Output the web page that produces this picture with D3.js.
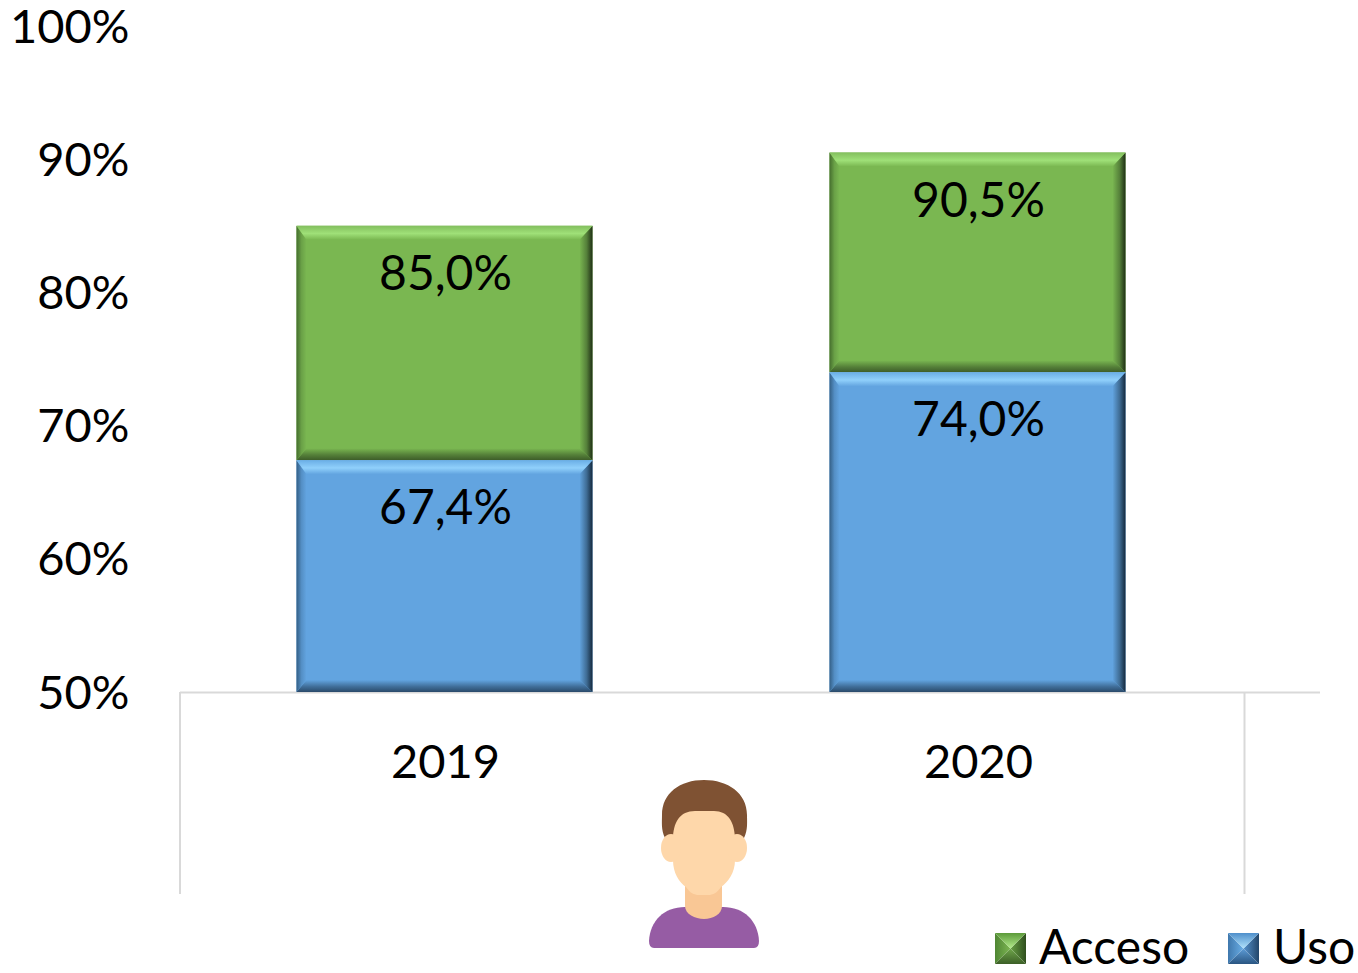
<!DOCTYPE html>
<html><head><meta charset="utf-8">
<style>html,body{margin:0;padding:0;background:#fff}svg{display:block}text{font-family:Lato,Carlito,sans-serif;fill:#000}</style>
<script src="https://cdn.jsdelivr.net/npm/d3@7/dist/d3.min.js"></script>
</head><body><svg id="c" width="1358" height="973"></svg>
<script>
const years = ["2019","2020"];
const acceso = [85.0,90.5];
const uso = [67.4,74.0];
const yTicks = [50,60,70,80,90,100];
const legendNames = ["Acceso","Uso"];

const svg = d3.select("#c");
const FS = 48;
const y = d3.scaleLinear().domain([50,100]).range([692,26]);
const x = d3.scaleBand().domain(years).range([178,1244]);
const barW = 296;
const fmt = v => v.toFixed(1).replace(".",",")+"%";

const palettes = {
  green:{base:"#7ab751",t0:"#83bf5e",t1:"#9fe078",side:"#1f2f15",sideMid:"#55803a",bottom:"#3d5c29",left:"#456e2e"},
  blue:{base:"#62a4e0",t0:"#6aaee6",t1:"#90d0fb",side:"#14293d",sideMid:"#3f6c94",bottom:"#2a4a6a",left:"#345f85"}
};
const defs = svg.append("defs");
function lg(id,x1,y1,x2,y2,stops){
  const g = defs.append("linearGradient").attr("id",id).attr("x1",x1).attr("y1",y1).attr("x2",x2).attr("y2",y2);
  stops.forEach(s=>g.append("stop").attr("offset",s[0]).attr("stop-color",s[1]));
}
Object.entries(palettes).forEach(([k,p])=>{
  lg(k+"T",0,0,0,1,[[0,p.t0],[.55,p.t1],[1,p.base]]);
  lg(k+"B",0,0,0,1,[[0,p.base],[.55,d3.interpolateRgb(p.base,p.bottom)(.6)],[1,p.bottom]]);
  lg(k+"L",0,0,1,0,[[0,p.left],[.5,d3.interpolateRgb(p.left,p.base)(.7)],[1,p.base]]);
  lg(k+"R",0,0,1,0,[[0,p.base],[.55,p.sideMid],[1,p.side]]);
});

function bevelBar(g,x0,x1,y0,y1,k){
  const bt=14,bb=12,bl=10,br=13;
  g.append("rect").attr("x",x0).attr("y",y0).attr("width",x1-x0).attr("height",y1-y0).attr("fill",palettes[k].base);
  const poly=(pts,f)=>g.append("polygon").attr("points",pts.map(p=>p.join(",")).join(" ")).attr("fill",f);
  poly([[x0,y1],[x0+bl,y1-bb],[x1-br,y1-bb],[x1,y1]],`url(#${k}B)`);
  poly([[x0,y0],[x0+bl,y0+bt],[x0+bl,y1-bb],[x0,y1]],`url(#${k}L)`);
  poly([[x1,y0],[x1-br,y0+bt],[x1-br,y1-bb],[x1,y1]],`url(#${k}R)`);
  poly([[x0,y0],[x0+bl,y0+bt],[x1-br,y0+bt],[x1,y0]],`url(#${k}T)`);
}

// axis lines
const gridC="#d9d9d9";
svg.append("line").attr("x1",180).attr("x2",1320).attr("y1",y(50)+.5).attr("y2",y(50)+.5).attr("stroke",gridC).attr("stroke-width",2);
[180,1244.5].forEach(v=>svg.append("line").attr("x1",v).attr("x2",v).attr("y1",y(50)).attr("y2",894).attr("stroke",gridC).attr("stroke-width",2));

// bars
years.forEach((yr,i)=>{
  const cx=x(yr)+x.bandwidth()/2, x0=cx-barW/2, x1=cx+barW/2;
  const g=svg.append("g");
  bevelBar(g,x0,x1,y(acceso[i]),y(uso[i]),"green");
  bevelBar(g,x0,x1,y(uso[i]),y(50),"blue");
  [acceso[i],uso[i]].forEach(v=>{
    svg.append("text").attr("x",cx+1).attr("y",y(v)+64).attr("text-anchor","middle").attr("font-size",FS).text(fmt(v));
  });
  svg.append("text").attr("x",cx+1).attr("y",777.5).attr("text-anchor","middle").attr("font-size",FS-1).text(yr);
});

// y axis labels
yTicks.forEach(t=>svg.append("text").attr("x",129.5).attr("y",y(t)+16.5).attr("text-anchor","end").attr("font-size",FS-1).text(t+"%"));

// legend
const legend=[{n:legendNames[0],k:"green",sx:995,tx:1039},{n:legendNames[1],k:"blue",sx:1228,tx:1273}];
const swCols={
  green:{t:["#5c9a3a","#b4ec8c"],l:["#4f8633","#7db653"],r:["#2f4f1e","#68a044"],b:["#3c5f27","#6fa64a"]},
  blue:{t:["#4f8fcb","#b2e4fd"],l:["#3f78ad","#6aaee6"],r:["#23466a","#5592cc"],b:["#2a5682","#5c9bd6"]}
};
legend.forEach(d=>{
  const s=31,Y=933,c=swCols[d.k],m=s/2;
  lg(d.k+"st",0,0,0,1,[[0,c.t[0]],[1,c.t[1]]]);
  lg(d.k+"sl",0,0,1,0,[[0,c.l[0]],[1,c.l[1]]]);
  lg(d.k+"sr",1,0,0,0,[[0,c.r[0]],[1,c.r[1]]]);
  lg(d.k+"sb",0,1,0,0,[[0,c.b[0]],[1,c.b[1]]]);
  const g=svg.append("g").attr("transform",`translate(${d.sx},${Y})`);
  const tri=(pts,f)=>g.append("polygon").attr("points",pts.map(p=>p.join(",")).join(" ")).attr("fill",f);
  tri([[0,0],[0,s],[m,m]],`url(#${d.k}sl)`);
  tri([[s,0],[s,s],[m,m]],`url(#${d.k}sr)`);
  tri([[0,s],[s,s],[m,m]],`url(#${d.k}sb)`);
  tri([[0,0],[s,0],[m,m]],`url(#${d.k}st)`);
  svg.append("text").attr("x",d.tx).attr("y",964).attr("font-size",FS).text(d.n);
});

// person icon
const p=svg.append("g");
p.append("path").attr("fill","#7f5233").attr("d","M665,838 C661,830 662,822 662,815 C662,793 680,780 704,780 C728,780 747,793 747,815 C747,822 748,830 744,838 L735,838 L672,838 Z");
p.append("path").attr("fill","#965ca4").attr("d","M654,948 Q649,948 649,941 C650,921 664,907 685,907 L723,907 C744,907 758,921 759,941 Q759,948 754,948 Z");
p.append("path").attr("fill","#f9c795").attr("d","M685,880 L722,880 L722,906 C722,914 713,919 704,919 C695,919 685,914 685,906 Z");
p.append("path").attr("fill","#fed7aa").attr("d","M673,840 C673,822 680,811 695,811 L714,811 C728,811 735,822 735,840 L735,860 C735,873 728,882 721,887 C717,893 713,895 708,895 L699,895 C694,895 690,893 686,887 C679,882 673,873 673,860 Z");
p.append("ellipse").attr("cx",671).attr("cy",848).attr("rx",10).attr("ry",14).attr("fill","#fed7aa");
p.append("ellipse").attr("cx",737).attr("cy",848).attr("rx",10).attr("ry",14).attr("fill","#fed7aa");
</script></body></html>
